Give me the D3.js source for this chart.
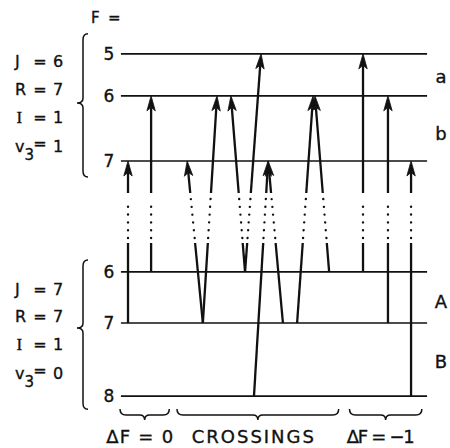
<!DOCTYPE html>
<html><head><meta charset="utf-8">
<script src="https://cdn.jsdelivr.net/npm/d3@7"></script>
<style>body{margin:0;background:#fff} text{stroke:#111;stroke-width:0.35px}</style>
</head><body><svg id="c" width="450" height="448"></svg>
<script>
// ---- data (energies in arbitrary units, positions in 0-100 units) ----
const upperF = [5, 6, 7];
const upperE = [98.9, 86.9, 68.3];
const lowerF = [6, 7, 8];
const lowerE = [36.6, 22.0, 1.1];
const transLowerF = [7, 6, 7, 7, 6, 6, 8, 7, 7, 6, 6, 7, 8];
const transLowerX = [2.6, 10.1, 26.9, 26.9, 40.6, 40.6, 43.5, 52.9, 57.5, 67.9, 78.9, 87.0, 94.5];
const transUpperF = [7, 6, 7, 6, 6, 5, 7, 7, 6, 6, 5, 6, 7];
const transUpperX = [2.6, 10.1, 21.8, 31.5, 36.0, 45.8, 48.1, 48.1, 62.7, 63.3, 78.9, 87.0, 94.5];
const upperQN = [["J", "6"], ["R", "7"], ["I", "1"], ["v", "1"]];
const lowerQN = [["J", "7"], ["R", "7"], ["I", "1"], ["v", "0"]];
const upperSub = ["a", "b"];
const lowerSub = ["A", "B"];
const groupLabels = ["ΔF = 0", "CROSSINGS", "ΔF = −1"];
const groupRanges = [[0, 16], [18.5, 71], [74.5, 98]];

// ---- scales ----
const x = d3.scaleLinear().domain([0, 100]).range([120, 428]);
const y = d3.scaleLinear().domain([0, 100]).range([400, 50]);
const upperY = d3.scaleOrdinal().domain(upperF).range(upperE.map(y));
const lowerY = d3.scaleOrdinal().domain(lowerF).range(lowerE.map(y));

const svg = d3.select("#c");
const ink = "#111";
const font = "'DejaVu Sans', 'Liberation Sans', Arial, sans-serif";

// level lines
const lev = svg.append("g");
function drawLevels(fs, sc) {
  fs.forEach(f => {
    const yy = sc(f);
    lev.append("line").attr("x1", x(0.3)).attr("x2", x(99.7)).attr("y1", yy).attr("y2", yy)
      .attr("stroke", ink).attr("stroke-width", 1.6);
    lev.append("text").attr("x", 109).attr("y", yy + 6).attr("text-anchor", "middle")
      .attr("font-family", font).attr("font-size", 17).attr("fill", ink).text(f);
  });
}
drawLevels(upperF, upperY);
drawLevels(lowerF, lowerY);

// transitions
const tg = svg.append("g");
const Y_LOW_END = 243, Y_DOT_LOW = 238, Y_DOT_HIGH = 199, Y_UP_START = 193;
transLowerF.forEach((lf, i) => {
  const x0 = x(transLowerX[i]), y0 = lowerY(lf);
  const x1 = x(transUpperX[i]), y1 = upperY(transUpperF[i]);
  const at = yy => x0 + (x1 - x0) * (yy - y0) / (y1 - y0);
  tg.append("line").attr("x1", x0).attr("y1", y0).attr("x2", at(Y_LOW_END)).attr("y2", Y_LOW_END)
    .attr("stroke", ink).attr("stroke-width", 2.3);
  tg.append("line").attr("x1", at(Y_DOT_LOW)).attr("y1", Y_DOT_LOW).attr("x2", at(Y_DOT_HIGH)).attr("y2", Y_DOT_HIGH)
    .attr("stroke", ink).attr("stroke-width", 2.4).attr("stroke-linecap", "round")
    .attr("stroke-dasharray", "0.01 7.8");
  const dx = x1 - at(Y_UP_START), dy = y1 - Y_UP_START;
  const L = Math.hypot(dx, dy), ux = dx / L, uy = dy / L;
  const hl = 15, hw = 4.2, notch = 11.5;
  tg.append("line").attr("x1", at(Y_UP_START)).attr("y1", Y_UP_START)
    .attr("x2", x1 - ux * notch).attr("y2", y1 - uy * notch)
    .attr("stroke", ink).attr("stroke-width", 2.3);
  const bx = x1 - ux * hl, by = y1 - uy * hl, px = -uy, py = ux;
  tg.append("path")
    .attr("d", `M${x1},${y1} L${bx + px * hw},${by + py * hw} L${x1 - ux * notch},${y1 - uy * notch} L${bx - px * hw},${by - py * hw} Z`)
    .attr("fill", ink).attr("stroke", ink).attr("stroke-width", 0.8).attr("stroke-linejoin", "miter");
});

// quantum number labels
function qn(list, baselines) {
  list.forEach((d, i) => {
    const b = baselines[i];
    const t = svg.append("text").attr("x", 15).attr("y", b).attr("font-family", font)
      .attr("font-size", 16).attr("fill", ink);
    if (d[0] === "I") {
      t.append("tspan").attr("font-family", "'Liberation Serif', serif").attr("font-size", 17).attr("x", 16.5).text("I");
    } else if (d[0] === "v") {
      t.text("v");
      t.append("tspan").attr("dy", 8).attr("font-size", 15).text("3");
    } else {
      t.text(d[0]);
    }
    svg.append("text").attr("x", 40).attr("y", b - (d[0] === "v" ? 3 : 0)).attr("text-anchor", "middle")
      .attr("font-family", font).attr("font-size", 16).attr("fill", ink).text("=");
    svg.append("text").attr("x", 58).attr("y", b).attr("text-anchor", "middle")
      .attr("font-family", font).attr("font-size", 16).attr("fill", ink).text(d[1]);
  });
}
qn(upperQN, [67, 95, 123, 152]);
qn(lowerQN, [295, 322, 350, 379]);

// F =
svg.append("text").attr("x", 91).attr("y", 23).attr("font-family", font).attr("font-size", 15)
  .attr("fill", ink).text("F");
svg.append("text").attr("x", 108).attr("y", 23).attr("font-family", font).attr("font-size", 15)
  .attr("fill", ink).text("=");

// vertical braces
function vbrace(xl, top, mid, bot) {
  svg.append("path").attr("fill", "none").attr("stroke", ink).attr("stroke-width", 1.5)
    .attr("d", `M${xl + 5},${top} Q${xl},${top} ${xl},${top + 6} L${xl},${mid - 5} Q${xl},${mid} ${xl - 6},${mid} Q${xl},${mid} ${xl},${mid + 5} L${xl},${bot - 6} Q${xl},${bot} ${xl + 5},${bot}`);
}
vbrace(83, upperY(5) - 20, 103, upperY(7) + 16);
vbrace(83, lowerY(6) - 12, 328, lowerY(8) + 13);

// sublevel group labels
[[upperSub, [83, 140]], [lowerSub, [308, 368]]].forEach(([labs, bl]) => {
  labs.forEach((l, i) => {
    svg.append("text").attr("x", 441).attr("y", bl[i]).attr("text-anchor", "middle")
      .attr("font-family", font).attr("font-size", 18).attr("fill", ink).text(l);
  });
});

// horizontal braces + labels
const hb = 415;
groupRanges.forEach((r, i) => {
  const a = x(r[0]), b = x(r[1]), m = (a + b) / 2;
  svg.append("path").attr("fill", "none").attr("stroke", ink).attr("stroke-width", 1.5)
    .attr("d", `M${a},${hb - 6} Q${a},${hb} ${a + 6},${hb} L${m - 5},${hb} Q${m},${hb} ${m},${hb + 5} Q${m},${hb} ${m + 5},${hb} L${b - 6},${hb} Q${b},${hb} ${b},${hb - 6}`);
  const w = [67, 122, 68][i];
  svg.append("text").attr("x", m - 5 - w / 2).attr("y", 443)
    .attr("font-family", font).attr("font-size", 18).attr("fill", ink)
    .attr("textLength", w).attr("lengthAdjust", "spacing").text(groupLabels[i]);
});
</script>
</body></html>
